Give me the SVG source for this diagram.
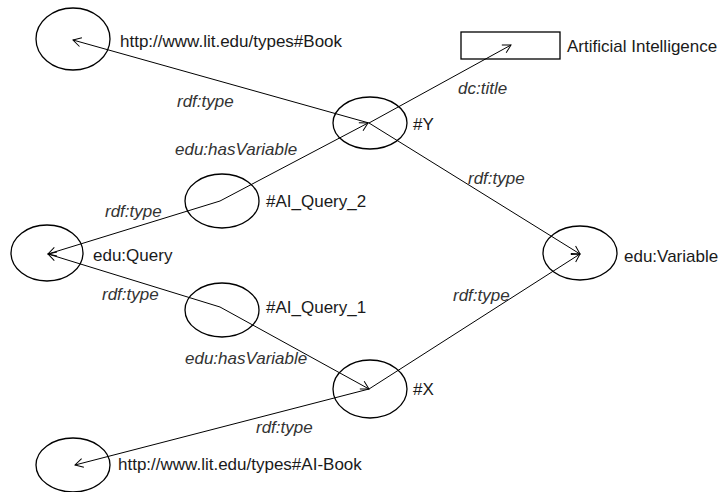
<svg xmlns="http://www.w3.org/2000/svg" width="723" height="492" viewBox="0 0 723 492">
<defs>
<style>
.node{fill:none;stroke:#000;stroke-width:1.3}
.edge{fill:none;stroke:#000;stroke-width:1}
.lbl{font-family:"Liberation Sans",Arial,sans-serif;font-size:17px;fill:#1a1a1a}
.elbl{font-family:"Liberation Sans",Arial,sans-serif;font-size:17px;font-style:italic;fill:#333}
</style>
<marker id="arr" markerWidth="12" markerHeight="12" refX="0" refY="0" viewBox="-10 -6 12 12" orient="auto" markerUnits="userSpaceOnUse">
<path d="M-8,-4.5 L0,0 L-8,4.5" fill="none" stroke="#000" stroke-width="1"/>
</marker>
</defs>
<rect width="723" height="492" fill="#fff"/>
<g id="connectors">
<path class="edge" d="M369,123 L73,40" marker-end="url(#arr)"/>
<path class="edge" d="M369,123 L511,45" marker-end="url(#arr)"/>
<path class="edge" d="M369,123 L580,254" marker-end="url(#arr)"/>
<path class="edge" d="M220,201 L48,254" marker-end="url(#arr)"/>
<path class="edge" d="M220,201 L368,123" marker-end="url(#arr)"/>
<path class="edge" d="M220,307 L48,254" marker-end="url(#arr)"/>
<path class="edge" d="M220,307 L369,389" marker-end="url(#arr)"/>
<path class="edge" d="M369,389 L580,254" marker-end="url(#arr)"/>
<path class="edge" d="M369,389 L75,465" marker-end="url(#arr)"/>
<text class="elbl" x="177" y="107">rdf:type</text>
<text class="elbl" x="458" y="94">dc:title</text>
<text class="elbl" x="175" y="155">edu:hasVariable</text>
<text class="elbl" x="468" y="184">rdf:type</text>
<text class="elbl" x="105" y="217">rdf:type</text>
<text class="elbl" x="102" y="300">rdf:type</text>
<text class="elbl" x="453" y="301">rdf:type</text>
<text class="elbl" x="185" y="364">edu:hasVariable</text>
<text class="elbl" x="256" y="433">rdf:type</text>
</g>
<g id="n-book"><ellipse class="node" cx="73" cy="39" rx="37" ry="31"/><text class="lbl" x="120" y="47">http://www.lit.edu/types#Book</text></g>
<g id="n-title"><rect class="node" x="461" y="32" width="99" height="27"/><text class="lbl" x="567" y="52">Artificial Intelligence</text></g>
<g id="n-y"><ellipse class="node" cx="370" cy="123" rx="37" ry="26"/><text class="lbl" x="413" y="130">#Y</text></g>
<g id="n-q2"><ellipse class="node" cx="222" cy="201" rx="37" ry="27"/><text class="lbl" x="266" y="207">#AI_Query_2</text></g>
<g id="n-query"><ellipse class="node" cx="47" cy="253" rx="36" ry="28"/><text class="lbl" x="93" y="261">edu:Query</text></g>
<g id="n-var"><ellipse class="node" cx="580" cy="253" rx="37" ry="27"/><text class="lbl" x="624" y="262">edu:Variable</text></g>
<g id="n-q1"><ellipse class="node" cx="222" cy="310" rx="37" ry="27"/><text class="lbl" x="266" y="313">#AI_Query_1</text></g>
<g id="n-x"><ellipse class="node" cx="370" cy="389" rx="37" ry="29"/><text class="lbl" x="413" y="395">#X</text></g>
<g id="n-aibook"><ellipse class="node" cx="73" cy="465" rx="37" ry="27"/><text class="lbl" x="118" y="470">http://www.lit.edu/types#AI-Book</text></g>
</svg>
